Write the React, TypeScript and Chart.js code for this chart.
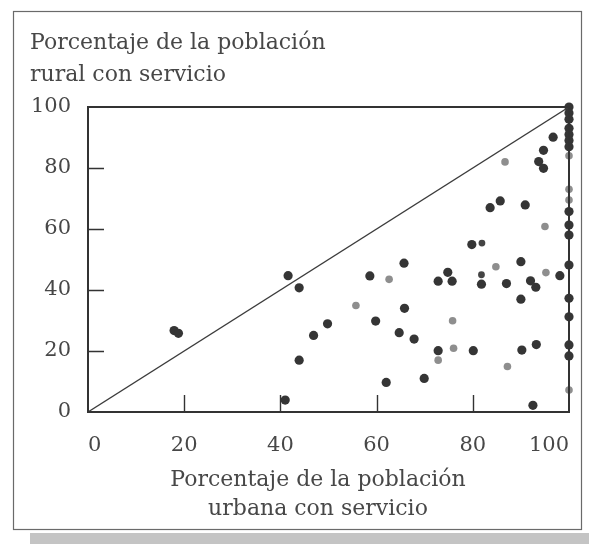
import React, { useEffect, useRef } from "react";
import { Chart, registerables } from "chart.js";

Chart.register(...registerables);

// Porcentaje de la población urbana con servicio (x) / rural con servicio (y)
const darkUrban = [
  41.6, 43.9, 17.9, 18.8, 49.8, 46.9, 43.9, 41.0,
  65.7, 58.6, 74.8, 72.8, 75.7, 81.8, 87.0, 92.0, 93.1, 98.1, 90.0, 90.0,
  65.8, 59.8, 64.7, 67.8, 72.8, 80.1, 90.2, 93.2, 62.0, 69.9, 92.5,
  96.7, 94.7, 93.7, 94.7, 85.7, 83.6, 90.9, 79.8,
  100, 100, 100, 100, 100, 100, 100, 100, 100, 100, 100, 100, 100, 100, 100,
];
const darkRural = [
  44.7, 40.7, 26.7, 25.8, 28.9, 25.1, 17.0, 3.9,
  48.8, 44.6, 45.8, 42.9, 42.9, 41.9, 42.1, 43.0, 40.9, 44.7, 49.3, 37.0,
  34.0, 29.8, 26.0, 23.9, 20.1, 20.1, 20.3, 22.1, 9.7, 11.0, 2.2,
  90.1, 85.8, 82.1, 79.9, 69.2, 67.0, 67.9, 54.9,
  100, 98, 96, 93, 91, 89, 87, 65.7, 61.3, 58.0, 48.2, 37.3, 31.2, 22.0, 18.4,
];
const smallUrban = [81.9, 81.8];
const smallRural = [55.4, 45.0];
const lightUrban = [86.7, 95.0, 84.8, 95.2, 62.6, 55.7, 75.8, 76.0, 72.8, 87.2, 100, 100, 100, 100];
const lightRural = [82.0, 60.8, 47.6, 45.7, 43.5, 34.9, 29.9, 20.9, 17.0, 14.9, 84, 73, 69.5, 7.2];

const diagonalX = [0, 100];
const diagonalY = [0, 100];

const axisTicks = [0, 20, 40, 60, 80, 100];
const innerTicks = [20, 40, 60, 80];

const yTitle = ["Porcentaje de la población", "rural con servicio"];
const xTitle = ["Porcentaje de la población", "urbana con servicio"];

const FONT = "'DejaVu Serif', 'Liberation Serif', serif";
const TEXT = "#474747";

const pts = (xs: number[], ys: number[]) => xs.map((x, i) => ({ x, y: ys[i] }));

export default function App() {
  const ref = useRef<HTMLCanvasElement | null>(null);

  useEffect(() => {
    if (!ref.current) return;

    const decor = {
      id: "decor",
      beforeDraw(chart: any) {
        const ctx = chart.ctx;
        ctx.save();
        ctx.fillStyle = "#ffffff";
        ctx.fillRect(0, 0, chart.width, chart.height);
        // scan strip at bottom
        ctx.fillStyle = "#c4c4c4";
        ctx.fillRect(30, 533, chart.width - 30, chart.height - 533);
        // outer frame
        ctx.strokeStyle = "#6a6a6a";
        ctx.lineWidth = 1.2;
        ctx.strokeRect(13.5, 11.5, 568, 518);
        ctx.restore();
      },
      afterDatasetsDraw(chart: any) {
        const ctx = chart.ctx;
        const a = chart.chartArea;
        const xs = chart.scales.x;
        const ys = chart.scales.y;
        ctx.save();
        ctx.strokeStyle = "#333";
        ctx.lineWidth = 2;
        ctx.strokeRect(a.left, a.top, a.right - a.left, a.bottom - a.top);
        ctx.lineWidth = 1.4;
        ctx.beginPath();
        innerTicks.forEach((v) => {
          const px = Math.round(xs.getPixelForValue(v)) + 0.5;
          ctx.moveTo(px, a.bottom);
          ctx.lineTo(px, a.bottom - 17);
          const py = Math.round(ys.getPixelForValue(v)) + 0.5;
          ctx.moveTo(a.left, py);
          ctx.lineTo(a.left + 16, py);
        });
        ctx.stroke();
        // titles
        ctx.fillStyle = TEXT;
        ctx.font = `22px ${FONT}`;
        ctx.textAlign = "left";
        ctx.textBaseline = "alphabetic";
        ctx.fillText(yTitle[0], 30, 49);
        ctx.fillText(yTitle[1], 30, 81);
        ctx.textAlign = "center";
        ctx.fillText(xTitle[0], 318, 486);
        ctx.fillText(xTitle[1], 318, 515);
        ctx.restore();
      },
    };

    const chart = new Chart(ref.current, {
      type: "scatter",
      data: {
        datasets: [
          {
            type: "line",
            data: pts(diagonalX, diagonalY),
            borderColor: "#3c3c3c",
            borderWidth: 1.3,
            pointRadius: 0,
            fill: false,
          } as any,
          {
            data: pts(darkUrban, darkRural),
            backgroundColor: "#353535",
            borderColor: "#353535",
            pointRadius: 4.6,
            borderWidth: 0,
            clip: false,
          },
          {
            data: pts(smallUrban, smallRural),
            backgroundColor: "#444",
            borderColor: "#444",
            pointRadius: 3.4,
            borderWidth: 0,
            clip: false,
          },
          {
            data: pts(lightUrban, lightRural),
            backgroundColor: "#8e8e8e",
            borderColor: "#8e8e8e",
            pointRadius: 3.8,
            borderWidth: 0,
            clip: false,
          },
        ],
      },
      plugins: [decor],
      options: {
        animation: false,
        responsive: false,
        maintainAspectRatio: false,
        layout: { padding: { left: 0, top: 107, right: 0, bottom: 0 } },
        plugins: {
          legend: { display: false },
          tooltip: { enabled: false },
          title: { display: false },
        },
        scales: {
          x: {
            type: "linear",
            min: 0,
            max: 100,
            afterBuildTicks: (s: any) => {
              s.ticks = axisTicks.map((v) => ({ value: v }));
            },
            afterFit: (s: any) => {
              s.height = 132;
              s.paddingRight = 20;
              s.paddingLeft = 0;
            },
            grid: { display: false, drawTicks: false },
            border: { display: false },
            ticks: {
              padding: 21,
              color: TEXT,
              font: { family: FONT, size: 21 },
              maxRotation: 0,
              autoSkip: false,
              align: "inner",
            },
          },
          y: {
            type: "linear",
            min: 0,
            max: 100,
            afterBuildTicks: (s: any) => {
              s.ticks = axisTicks.map((v) => ({ value: v }));
            },
            afterFit: (s: any) => {
              s.width = 88;
              s.paddingTop = 0;
              s.paddingBottom = 0;
            },
            grid: { display: false, drawTicks: false },
            border: { display: false },
            ticks: {
              padding: 17,
              color: TEXT,
              font: { family: FONT, size: 21 },
              autoSkip: false,
            },
          },
        },
      },
    });
    return () => chart.destroy();
  }, []);

  return (
    <div style={{ position: "fixed", left: 0, top: 0, width: 589, height: 544, background: "#fff" }}>
      <canvas ref={ref} width={589} height={544} style={{ width: 589, height: 544, display: "block" }} />
    </div>
  );
}
